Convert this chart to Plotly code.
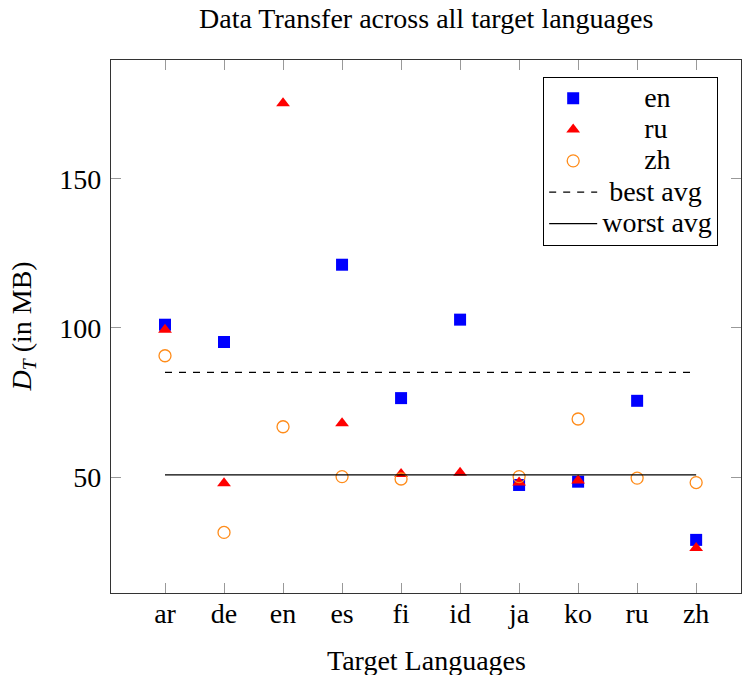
import plotly.graph_objects as go

languages = ["ar", "de", "en", "es", "fi", "id", "ja", "ko", "ru", "zh"]
en_vals = [101.1, 95.3, None, 121.2, 76.5, 102.8, 47.4, 48.5, 75.6, 29.0]
ru_vals = [99.4, 48.0, 175.3, 68.1, 51.1, 51.5, 48.2, 48.9, None, 26.3]
zh_vals = [90.7, 31.5, 66.9, 50.2, 49.4, None, 50.2, 69.5, 49.7, 48.2]
best_avg = 85.1
worst_avg = 50.8

FONT = "Liberation Serif"
FS = 28
NB = "&nbsp;"


def leg(text, pad):
    return '<span style="font-size:28px">' + NB * pad + text + "</span>"


fig = go.Figure()
fig.add_trace(go.Scatter(x=languages, y=en_vals, mode="markers", name=leg("en", 6),
                         marker=dict(symbol="square", size=12, color="#0000FF")))
fig.add_trace(go.Scatter(x=languages, y=ru_vals, mode="markers", name=leg("ru", 6),
                         marker=dict(symbol="triangle-up", size=12, color="#FF0000")))
fig.add_trace(go.Scatter(x=languages, y=zh_vals, mode="markers", name=leg("zh", 6),
                         marker=dict(symbol="circle-open", size=12, color="#FF8C1A",
                                     line=dict(width=1.3))))
fig.add_trace(go.Scatter(x=languages, y=[best_avg] * len(languages), mode="lines",
                         name=leg("best avg", 1),
                         line=dict(color="black", width=1.2, dash="7px,7px")))
fig.add_trace(go.Scatter(x=languages, y=[worst_avg] * len(languages), mode="lines",
                         name=leg("worst avg", 0), line=dict(color="black", width=1.2)))

axis_common = dict(showgrid=False, zeroline=False, showline=True, linecolor="#333333",
                   linewidth=1.3, mirror="ticks", ticks="inside", ticklen=10,
                   tickcolor="#999999", tickwidth=1,
                   tickfont=dict(family=FONT, size=FS, color="black"))

fig.update_layout(
    width=742, height=675,
    margin=dict(l=111, r=1, t=60, b=82),
    paper_bgcolor="white", plot_bgcolor="white",
    font=dict(family=FONT, color="black"),
    xaxis=dict(type="category", categoryorder="array", categoryarray=languages,
               range=[-0.915, 9.76], ticklabelstandoff=-5, **axis_common),
    yaxis=dict(range=[11.2, 189.8], tickvals=[50, 100, 150], ticklabelstandoff=3,
               **axis_common),
    legend=dict(x=0.686, y=0.969, xanchor="left", yanchor="top",
                bordercolor="black", borderwidth=1, bgcolor="white",
                itemwidth=48, font=dict(family=FONT, size=21.8)),
    showlegend=True,
    annotations=[
        dict(text="Data Transfer across all target languages", xref="paper", yref="paper",
             x=0.5, y=1, yshift=42, xanchor="center", yanchor="middle", showarrow=False,
             font=dict(family=FONT, size=FS)),
        dict(text="<i>D</i><sub><i>T</i></sub> (in MB)", textangle=-90,
             xref="paper", yref="paper", x=0, y=0.5, xshift=-88,
             xanchor="center", yanchor="middle", showarrow=False,
             font=dict(family=FONT, size=FS)),
        dict(text="Target Languages", xref="paper", yref="paper", x=0.5, y=0, yshift=-67,
             xanchor="center", yanchor="middle", showarrow=False,
             font=dict(family=FONT, size=FS)),
    ],
)

fig.write_html("out.html", config={"displayModeBar": False},
               post_script="document.body.style.margin='0';document.body.style.overflow='hidden';")
